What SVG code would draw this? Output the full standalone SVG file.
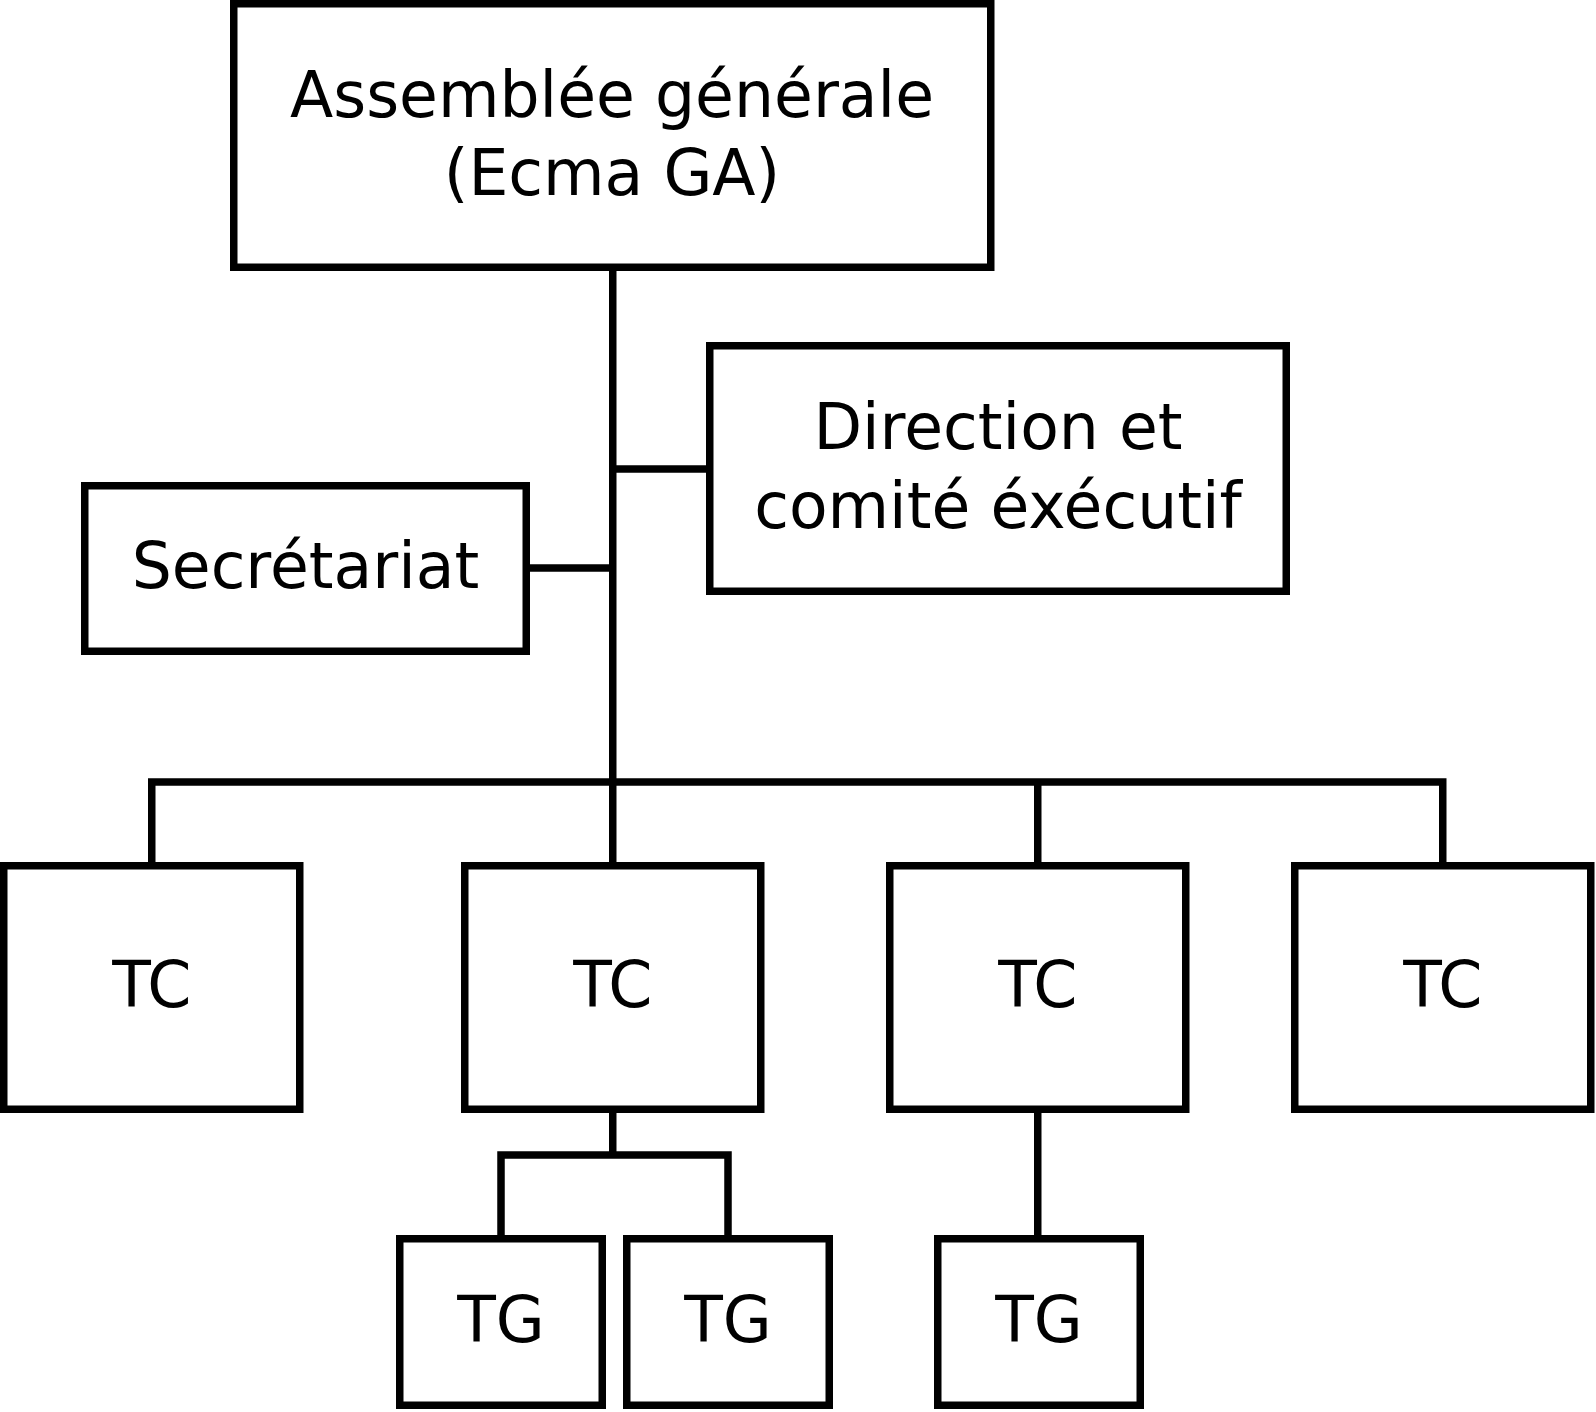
<svg xmlns="http://www.w3.org/2000/svg" width="1596" height="1412" viewBox="0 0 1596 1412">
<style>
.box{fill:#fff;stroke:#000;stroke-width:7.5}
.ln{fill:none;stroke:#000;stroke-width:7.5}
text{font-family:"DejaVu Sans","Liberation Sans",sans-serif;font-size:63.2px;fill:#000;text-anchor:middle}
</style>
<rect width="1596" height="1412" fill="#fff"/>
<g id="connectors">
<path class="ln" d="M612.75 267 V782"/>
<path class="ln" d="M612.75 469 H706"/>
<path class="ln" d="M530 568 H612.75"/>
<path class="ln" d="M151.75 862 V782 H1442.75 V862"/>
<path class="ln" d="M612.75 782 V862"/>
<path class="ln" d="M1037.75 782 V862"/>
<path class="ln" d="M612.75 1113 V1155"/>
<path class="ln" d="M501 1235 V1155 H728 V1235"/>
<path class="ln" d="M1037.75 1113 V1235"/>
</g>
<g id="ga"><rect class="box" x="233.75" y="3.75" width="757" height="263.5"/><text x="612" y="117">Assemblée générale</text><text x="612" y="195">(Ecma GA)</text></g>
<g id="direction"><rect class="box" x="709.75" y="345.75" width="576.5" height="245.5"/><text x="998" y="449">Direction et</text><text x="998" y="528">comité éxécutif</text></g>
<g id="secretariat"><rect class="box" x="84.75" y="485.75" width="441.5" height="165.5"/><text x="305.5" y="588">Secrétariat</text></g>
<g id="tc1"><rect class="box" x="3.75" y="865.75" width="296" height="243.5"/><text x="151.75" y="1007">TC</text></g>
<g id="tc2"><rect class="box" x="464.75" y="865.75" width="296" height="243.5"/><text x="612.75" y="1007">TC</text></g>
<g id="tc3"><rect class="box" x="889.75" y="865.75" width="296" height="243.5"/><text x="1037.75" y="1007">TC</text></g>
<g id="tc4"><rect class="box" x="1294.75" y="865.75" width="296" height="243.5"/><text x="1442.75" y="1007">TC</text></g>
<g id="tg1"><rect class="box" x="399.75" y="1238.75" width="202.5" height="166.5"/><text x="501" y="1342">TG</text></g>
<g id="tg2"><rect class="box" x="626.75" y="1238.75" width="202.5" height="166.5"/><text x="728" y="1342">TG</text></g>
<g id="tg3"><rect class="box" x="937.75" y="1238.75" width="202.5" height="166.5"/><text x="1039" y="1342">TG</text></g>
</svg>
